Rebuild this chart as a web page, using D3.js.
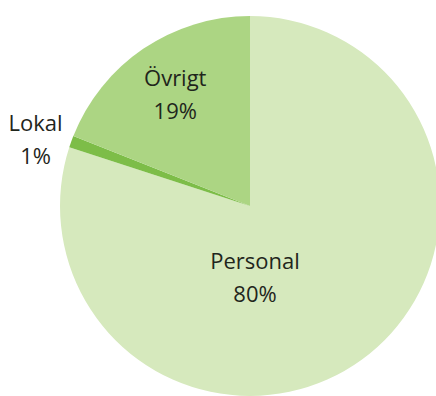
<!DOCTYPE html>
<html>
<head>
<meta charset="utf-8">
<script src="https://cdn.jsdelivr.net/npm/d3@7"></script>
<style>
  html, body { margin: 0; padding: 0; background: #fff; }
  svg { display: block; }
</style>
</head>
<body>
<svg id="chart" width="436" height="396"></svg>
<script>
// Cost breakdown, share of total
const categories = ["Personal", "Lokal", "Övrigt"];
const shares = [80, 1, 19];
const shareLabels = ["80%", "1%", "19%"];
const sliceColors = ["#d6e9bd", "#7dbd48", "#acd583"];

const svg = d3.select("#chart");
const cx = 250, cy = 206, radius = 190;

const data = categories.map((c, i) => ({ name: c, value: shares[i], label: shareLabels[i], color: sliceColors[i] }));

const pie = d3.pie().value(d => d.value).sort(null);
const arcs = pie(data);
const arc = d3.arc().innerRadius(0).outerRadius(radius);

const g = svg.append("g").attr("transform", `translate(${cx},${cy})`);

g.selectAll("path")
  .data(arcs)
  .join("path")
  .attr("d", arc)
  .attr("fill", d => d.data.color);

// Label anchor per slice: distance from centre (fraction of radius) and
// an optional angle override in degrees (clockwise from 12 o'clock)
const labelPlacement = {
  "Personal": { r: 0.38, angle: 176 },
  "Övrigt":   { r: 0.70 },
  "Lokal":    { r: 1.18, angle: 287 }
};

function anchor(d) {
  const p = labelPlacement[d.data.name];
  const a = p.angle !== undefined ? p.angle * Math.PI / 180 : (d.startAngle + d.endAngle) / 2;
  const r = p.r * radius;
  return [Math.sin(a) * r, -Math.cos(a) * r];
}

const fontFamily = "'Open Sans', sans-serif";
const fontSize = 22;
const lineGap = 33;

const labels = g.selectAll("g.label")
  .data(arcs)
  .join("g")
  .attr("class", "label")
  .attr("transform", d => `translate(${anchor(d)})`);

labels.append("text")
  .attr("text-anchor", "middle")
  .attr("y", -lineGap / 2 + 7)
  .attr("font-family", fontFamily)
  .attr("font-size", fontSize)
  .attr("fill", "#1f261c")
  .text(d => d.data.name);

labels.append("text")
  .attr("text-anchor", "middle")
  .attr("y", lineGap / 2 + 7)
  .attr("font-family", fontFamily)
  .attr("font-size", fontSize)
  .attr("fill", "#1f261c")
  .text(d => d.data.label);
</script>
</body>
</html>
